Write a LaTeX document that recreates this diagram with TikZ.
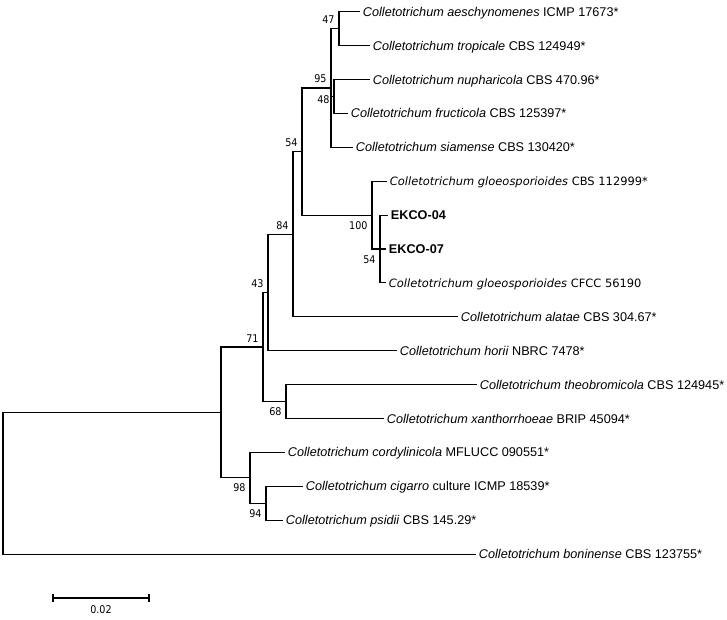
\documentclass[tikz,border=0pt]{standalone}
\usepackage{fontspec}
\setmainfont{Liberation Sans}
\newfontfamily\bsfont{DejaVu Sans Condensed}
\newfontfamily\gloeofont{DejaVu Sans}

\tikzset{
  tip/.style={anchor=west, inner sep=2pt, font=\fontsize{9.5}{11}\selectfont, text height=6.8pt, text depth=0pt},
  gtip/.style={tip, font=\gloeofont\fontsize{8.6}{10}\selectfont, text height=6.3pt},
  boot/.style={font=\bsfont\fontsize{8}{9}\selectfont, inner xsep=3.2pt},
  bsup/.style={boot, anchor=south east, inner ysep=3.5pt},
  bsdown/.style={boot, anchor=north east, inner ysep=4.5pt},
  branch/.style={line width=0.8pt}
}

\begin{document}
\begin{tikzpicture}[x=0.75pt,y=-0.75pt]
\useasboundingbox (0,0) rectangle (727,619);

% internal nodes
\coordinate (root) at (3,483.3);
\coordinate (c1) at (221,412.4);
\coordinate (n71) at (263,347);
\coordinate (n43) at (268,292.4);
\coordinate (n84) at (293,234.2);
\coordinate (n54a) at (302,151.5);
\coordinate (n95) at (331,88);
\coordinate (n47) at (339,28.65);
\coordinate (n48) at (334,96.45);
\coordinate (n100) at (372,215.1);
\coordinate (n54b) at (380,249);
\coordinate (n68) at (286,401.6);
\coordinate (n98) at (250,477.8);
\coordinate (n94) at (266,503.2);

% tips
\node[tip] (aes) at (360,11.7) {\textit{Colletotrichum aeschynomenes} ICMP 17673*};
\node[tip] (tro) at (370,45.6) {\textit{Colletotrichum tropicale} CBS 124949*};
\node[tip] (nup) at (370,79.5) {\textit{Colletotrichum nupharicola} CBS 470.96*};
\node[tip] (fru) at (348,113.4) {\textit{Colletotrichum fructicola} CBS 125397*};
\node[tip] (sia) at (353,147.3) {\textit{Colletotrichum siamense} CBS 130420*};
\node[gtip] (glo) at (387,181.2) {\textit{Colletotrichum gloeosporioides} CBS 112999*};
\node[tip] (ek4) at (388,215.1) {\textbf{EKCO-04}};
\node[tip] (ek7) at (386,249) {\textbf{EKCO-07}};
\node[gtip] (cfcc) at (386,282.9) {\textit{Colletotrichum gloeosporioides} CFCC 56190};
\node[tip] (ala) at (458,316.8) {\textit{Colletotrichum alatae} CBS 304.67*};
\node[tip] (hor) at (397,350.7) {\textit{Colletotrichum horii} NBRC 7478*};
\node[tip] (the) at (477,384.6) {\textit{Colletotrichum theobromicola} CBS 124945*};
\node[tip] (xan) at (384,418.5) {\textit{Colletotrichum xanthorrhoeae} BRIP 45094*};
\node[tip] (cor) at (285,452.4) {\textit{Colletotrichum cordylinicola} MFLUCC 090551*};
\node[tip] (cig) at (303,486.3) {\textit{Colletotrichum cigarro} culture ICMP 18539*};
\node[tip] (psi) at (283,520.2) {\textit{Colletotrichum psidii} CBS 145.29*};
\node[tip] (bon) at (476,554.1) {\textit{Colletotrichum boninense} CBS 123755*};

% branches
\draw[branch] (root) |- (c1);
\draw[branch] (root) |- (bon.west);
\draw[branch] (c1) |- (n71);
\draw[branch] (c1) |- (n98);
\draw[branch] (n71) |- (n43);
\draw[branch] (n71) |- (n68);
\draw[branch] (n43) |- (n84);
\draw[branch] (n43) |- (hor.west);
\draw[branch] (n84) |- (n54a);
\draw[branch] (n84) |- (ala.west);
\draw[branch] (n54a) |- (n95);
\draw[branch] (n54a) |- (n100);
\draw[branch] (n95) |- (n47);
\draw[branch] (n95) |- (n48);
\draw[branch] (n95) |- (sia.west);
\draw[branch] (n47) |- (aes.west);
\draw[branch] (n47) |- (tro.west);
\draw[branch] (n48) |- (nup.west);
\draw[branch] (n48) |- (fru.west);
\draw[branch] (n100) |- (glo.west);
\draw[branch] (n100) |- (n54b);
\draw[branch] (n54b) |- (ek4.west);
\draw[branch] (n54b) |- (ek7.west);
\draw[branch] (n54b) |- (cfcc.west);
\draw[branch] (n68) |- (the.west);
\draw[branch] (n68) |- (xan.west);
\draw[branch] (n98) |- (cor.west);
\draw[branch] (n98) |- (n94);
\draw[branch] (n94) |- (cig.west);
\draw[branch] (n94) |- (psi.west);

% bootstrap values
\node[bsup] (b47) at (n47) {47};
\node[bsup] (b95) at (n95) {95};
\node[boot,anchor=east] (b48) at (334,100) {48};
\node[bsup] (b54a) at (n54a) {54};
\node[bsup] (b84) at (n84) {84};
\node[bsup] (b43) at (n43) {43};
\node[bsup] (b71) at (n71) {71};
\node[bsdown] (b100) at (n100) {100};
\node[bsdown] (b54b) at (n54b) {54};
\node[bsdown] (b68) at (n68) {68};
\node[bsdown] (b98) at (n98) {98};
\node[bsdown] (b94) at (n94) {94};

% scale bar
\coordinate (sbl) at (53,598);
\coordinate (sbr) at (149,598);
\draw[branch] (sbl) -- (sbr);
\draw[branch] (53,594) -- (53,602);
\draw[branch] (149,594) -- (149,602);
\node[boot] (sblab) at (101,610) {0.02};

\end{tikzpicture}
\end{document}
